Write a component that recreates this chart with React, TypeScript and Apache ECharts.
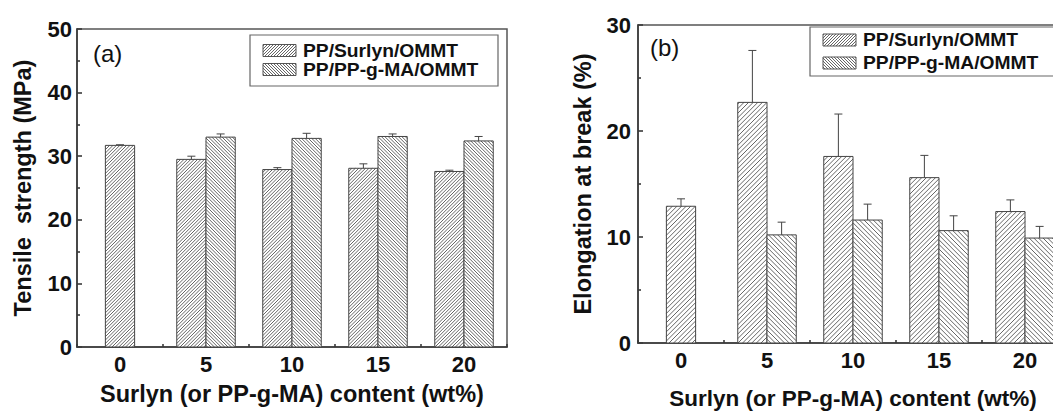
import React, { useEffect, useRef } from 'react';
import * as echarts from 'echarts';

const categories = ['0', '5', '10', '15', '20'];
const seriesNames = ['PP/Surlyn/OMMT', 'PP/PP-g-MA/OMMT'];
const panelLabels = ['(a)', '(b)'];

const tensileSurlyn = [31.7, 29.5, 27.9, 28.1, 27.6];
const tensileSurlynErr = [0.1, 0.5, 0.3, 0.7, 0.2];
const tensileMA = [null, 33.0, 32.8, 33.1, 32.4];
const tensileMAErr = [null, 0.5, 0.8, 0.4, 0.7];

const elongSurlyn = [12.9, 22.7, 17.6, 15.6, 12.4];
const elongSurlynErr = [0.7, 4.9, 4.0, 2.1, 1.1];
const elongMA = [null, 10.2, 11.6, 10.6, 9.9];
const elongMAErr = [null, 1.2, 1.5, 1.4, 1.1];

const tensileAxis = { min: 0, max: 50, interval: 10 };
const elongAxis = { min: 0, max: 30, interval: 10 };

const FONT = "'Liberation Sans', Arial, Helvetica, sans-serif";
const AX = '#3a3a3a';
const HATCH = '#555';
const BAR_RATIO = 0.34;

function hatch(x0: number, y0: number, x1: number, y1: number, dir: number, d: number) {
  const out: number[][] = [];
  if (dir > 0) {
    let c = Math.ceil((x0 + y0) / d) * d;
    for (; c < x1 + y1; c += d) {
      const xs = Math.max(x0, c - y1), xe = Math.min(x1, c - y0);
      if (xe > xs) out.push([xs, c - xs, xe, c - xe]);
    }
  } else {
    let c = Math.ceil((x0 - y1) / d) * d;
    for (; c < x1 - y0; c += d) {
      const xs = Math.max(x0, c + y0), xe = Math.min(x1, c + y1);
      if (xe > xs) out.push([xs, xs - c, xe, xe - c]);
    }
  }
  return out;
}

function hatchEls(x0: number, y0: number, x1: number, y1: number, dir: number, d: number) {
  return hatch(x0, y0, x1, y1, dir, d).map((s) => ({
    type: 'line',
    shape: { x1: s[0], y1: s[1], x2: s[2], y2: s[3] },
    style: { stroke: HATCH, lineWidth: 0.9 },
    silent: true,
  }));
}

function barSeries(
  grid: number,
  name: string,
  values: (number | null)[],
  errs: (number | null)[],
  other: (number | null)[],
  side: number,
  dir: number,
  d: number
) {
  const data = values
    .map((v, i) => (v == null ? null : [i, v, errs[i] ?? 0]))
    .filter((x) => x != null);
  return {
    type: 'custom',
    name,
    xAxisIndex: grid * 2,
    yAxisIndex: grid,
    data,
    encode: { x: 0, y: 1 },
    clip: false,
    renderItem: (params: any, api: any) => {
      const i = api.value(0);
      const v = api.value(1);
      const e = api.value(2);
      const base = api.coord([i, 0]);
      const top = api.coord([i, v]);
      const et = api.coord([i, v + e]);
      const band = api.size([1, 0])[0];
      const w = band * BAR_RATIO;
      const alone = other[i] == null;
      const cx = base[0] + (alone ? 0 : (side * w) / 2);
      const x0 = cx - w / 2, x1 = cx + w / 2;
      const y0 = top[1], y1 = base[1];
      const children: any[] = [
        { type: 'rect', shape: { x: x0, y: y0, width: w, height: y1 - y0 }, style: { fill: '#fff', stroke: 'none' } },
        ...hatchEls(x0, y0, x1, y1, dir, d),
        { type: 'rect', shape: { x: x0, y: y0, width: w, height: y1 - y0 }, style: { fill: 'none', stroke: '#444', lineWidth: 1 } },
        { type: 'line', shape: { x1: cx, y1: y0, x2: cx, y2: et[1] }, style: { stroke: '#444', lineWidth: 1 } },
        { type: 'line', shape: { x1: cx - 4, y1: et[1], x2: cx + 4, y2: et[1] }, style: { stroke: '#444', lineWidth: 1 } },
      ];
      return { type: 'group', children };
    },
  };
}

const lineStyle = { color: AX, width: 1.6 };
const tickLabel = { fontSize: 22, fontWeight: 'bold', color: '#111', fontFamily: FONT };
const nameStyle = { fontSize: 23.5, fontWeight: 'bold', color: '#111', fontFamily: FONT };

function xAxes(grid: number, nameGap: number, margin: number, nameSize: number) {
  return [
    {
      type: 'category',
      gridIndex: grid,
      data: categories,
      position: 'bottom',
      boundaryGap: true,
      name: 'Surlyn (or PP-g-MA) content (wt%)',
      nameLocation: 'middle',
      nameGap,
      nameTextStyle: { ...nameStyle, fontSize: nameSize },
      axisLine: { show: true, lineStyle },
      axisTick: { show: true, inside: true, alignWithLabel: true, length: 4, interval: 0, lineStyle },
      axisLabel: { ...tickLabel, margin, interval: 0 },
      splitLine: { show: false },
    },
    {
      type: 'category',
      gridIndex: grid,
      data: categories,
      position: 'bottom',
      boundaryGap: true,
      axisLine: { show: false },
      axisTick: { show: true, inside: true, length: 3, interval: 0, lineStyle },
      axisLabel: { show: false },
      splitLine: { show: false },
    },
  ];
}

function yAxis(grid: number, cfg: any, name: string, nameGap: number, margin: number) {
  return {
    type: 'value',
    gridIndex: grid,
    min: cfg.min,
    max: cfg.max,
    interval: cfg.interval,
    name,
    nameLocation: 'middle',
    nameGap,
    nameTextStyle: { ...nameStyle },
    axisLine: { show: true, lineStyle },
    axisTick: { show: true, inside: true, length: 5, lineStyle },
    minorTick: { show: true, splitNumber: 2, length: 3, lineStyle },
    splitLine: { show: false },
    minorSplitLine: { show: false },
    axisLabel: { ...tickLabel, margin },
  };
}

function legendGraphic(bx: number, by: number, bw: number, bh: number, sx: number, rows: number[], d: number) {
  const els: any[] = [
    { type: 'rect', shape: { x: bx, y: by, width: bw, height: bh }, style: { fill: '#fff', stroke: '#666', lineWidth: 1.2 } },
  ];
  rows.forEach((cy, k) => {
    const x0 = sx, x1 = sx + 33, y0 = cy - 6, y1 = cy + 6;
    els.push({ type: 'rect', shape: { x: x0, y: y0, width: 33, height: 12 }, style: { fill: '#fff', stroke: 'none' } });
    hatchEls(x0, y0, x1, y1, k === 0 ? 1 : -1, d).forEach((l) => els.push(l));
    els.push({ type: 'rect', shape: { x: x0, y: y0, width: 33, height: 12 }, style: { fill: 'none', stroke: '#555', lineWidth: 1 } });
    els.push({
      type: 'text',
      x: sx + 40,
      y: cy,
      scaleX: 1.07,
      style: { text: seriesNames[k], fontSize: 18, fontWeight: 'bold', fontFamily: FONT, fill: '#111', verticalAlign: 'middle', align: 'left' },
    });
  });
  return els;
}

const option: any = {
  animation: false,
  backgroundColor: '#fff',
  grid: [
    { left: 77, top: 29, width: 430, height: 318, show: true, borderColor: '#555', borderWidth: 1.5, containLabel: false, outerBoundsMode: 'none' },
    { left: 638, top: 25, width: 430, height: 318, show: true, borderColor: '#555', borderWidth: 1.5, containLabel: false, outerBoundsMode: 'none' },
  ],
  xAxis: [...xAxes(0, 35, 6, 23.5), ...xAxes(1, 44, 6, 22.5)],
  yAxis: [
    yAxis(0, tensileAxis, 'Tensile  strength (MPa)', 42, 5),
    yAxis(1, elongAxis, 'Elongation at break (%)', 43, 7),
  ],
  series: [
    barSeries(0, seriesNames[0], tensileSurlyn, tensileSurlynErr, tensileMA, -1, 1, 3.4),
    barSeries(0, seriesNames[1], tensileMA, tensileMAErr, tensileSurlyn, 1, -1, 3.4),
    barSeries(1, seriesNames[0], elongSurlyn, elongSurlynErr, elongMA, -1, 1, 4.6),
    barSeries(1, seriesNames[1], elongMA, elongMAErr, elongSurlyn, 1, -1, 4.6),
  ],
  graphic: [
    ...legendGraphic(250, 35, 248, 51, 263, [50.5, 69.5], 3),
    ...legendGraphic(810, 27, 260, 49, 823, [40, 63], 3),
    { type: 'text', x: 93, y: 53, style: { text: panelLabels[0], fontSize: 24, fontFamily: FONT, fill: '#111', verticalAlign: 'middle' } },
    { type: 'text', x: 650, y: 47, style: { text: panelLabels[1], fontSize: 24, fontFamily: FONT, fill: '#111', verticalAlign: 'middle' } },
  ],
};

export default function App() {
  const ref = useRef<HTMLDivElement>(null);
  useEffect(() => {
    const chart = echarts.init(ref.current!, null, { renderer: 'svg' });
    chart.setOption(option);
    return () => chart.dispose();
  }, []);
  return <div ref={ref} style={{ position: 'absolute', left: 0, top: 0, width: 1053, height: 413 }} />;
}
